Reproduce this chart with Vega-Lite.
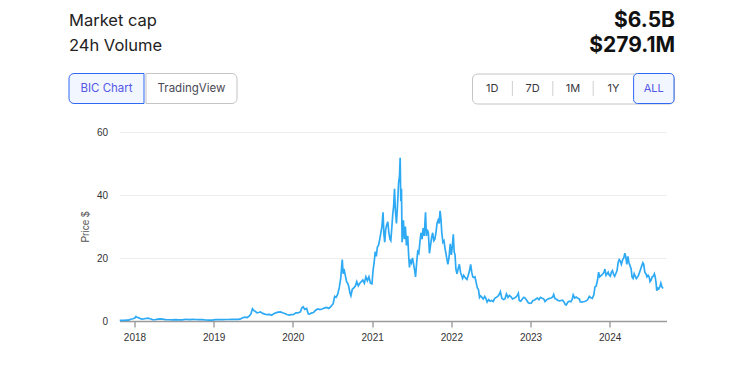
{
  "$schema": "https://vega.github.io/schema/vega-lite/v6.json",
  "padding": {"left": 68, "top": 8.5, "right": 0, "bottom": 0},
  "background": "white",
  "config": {"view": {"stroke": null}, "font": "Inter"},
  "datasets": {
    "header": [
      {"metric": "Market cap", "value": "$6.5B"},
      {"metric": "24h Volume", "value": "$279.1M"}
    ],
    "btnL": [
      {"label": "BIC Chart", "selected": true},
      {"label": "TradingView", "selected": false}
    ],
    "btnR": [
      {"label": "1D", "selected": false, "divider": false},
      {"label": "7D", "selected": false, "divider": true},
      {"label": "1M", "selected": false, "divider": true},
      {"label": "1Y", "selected": false, "divider": true},
      {"label": "ALL", "selected": true, "divider": false}
    ],
    "prices": [
      {"d": "2017-10-25", "p": 0.17}, {"d": "2017-11-05", "p": 0.18}, {"d": "2017-11-15", "p": 0.2}, {"d": "2017-11-25", "p": 0.25},
      {"d": "2017-12-05", "p": 0.3}, {"d": "2017-12-15", "p": 0.55}, {"d": "2017-12-25", "p": 0.7},
      {"d": "2018-01-03", "p": 0.95}, {"d": "2018-01-08", "p": 1.45}, {"d": "2018-01-14", "p": 1.1}, {"d": "2018-01-20", "p": 1.05},
      {"d": "2018-01-27", "p": 0.8}, {"d": "2018-02-04", "p": 0.6}, {"d": "2018-02-12", "p": 0.65}, {"d": "2018-02-22", "p": 0.8},
      {"d": "2018-03-04", "p": 0.9}, {"d": "2018-03-14", "p": 0.7}, {"d": "2018-03-25", "p": 0.45}, {"d": "2018-04-05", "p": 0.4},
      {"d": "2018-04-18", "p": 0.6}, {"d": "2018-04-28", "p": 0.7}, {"d": "2018-05-10", "p": 0.6}, {"d": "2018-05-25", "p": 0.45},
      {"d": "2018-06-10", "p": 0.4}, {"d": "2018-06-25", "p": 0.33}, {"d": "2018-07-10", "p": 0.42}, {"d": "2018-07-25", "p": 0.38},
      {"d": "2018-08-10", "p": 0.35}, {"d": "2018-08-25", "p": 0.55}, {"d": "2018-09-10", "p": 0.45}, {"d": "2018-09-25", "p": 0.52},
      {"d": "2018-10-10", "p": 0.48}, {"d": "2018-10-25", "p": 0.45}, {"d": "2018-11-10", "p": 0.45}, {"d": "2018-11-25", "p": 0.32},
      {"d": "2018-12-10", "p": 0.25}, {"d": "2018-12-25", "p": 0.3},
      {"d": "2019-01-10", "p": 0.45}, {"d": "2019-01-25", "p": 0.42}, {"d": "2019-02-10", "p": 0.45}, {"d": "2019-02-25", "p": 0.48},
      {"d": "2019-03-10", "p": 0.47}, {"d": "2019-03-25", "p": 0.5}, {"d": "2019-04-10", "p": 0.55}, {"d": "2019-04-25", "p": 0.5},
      {"d": "2019-05-05", "p": 0.65}, {"d": "2019-05-15", "p": 1.05}, {"d": "2019-05-25", "p": 1.25}, {"d": "2019-06-05", "p": 1.1},
      {"d": "2019-06-15", "p": 1.6}, {"d": "2019-06-22", "p": 2.3}, {"d": "2019-06-29", "p": 3.9}, {"d": "2019-07-06", "p": 3.3},
      {"d": "2019-07-13", "p": 3.0}, {"d": "2019-07-20", "p": 2.6}, {"d": "2019-07-27", "p": 2.7}, {"d": "2019-08-05", "p": 2.9},
      {"d": "2019-08-15", "p": 2.4}, {"d": "2019-08-25", "p": 2.2}, {"d": "2019-09-05", "p": 2.0}, {"d": "2019-09-15", "p": 2.1},
      {"d": "2019-09-25", "p": 1.8}, {"d": "2019-10-05", "p": 2.3}, {"d": "2019-10-15", "p": 2.6}, {"d": "2019-10-25", "p": 2.8},
      {"d": "2019-11-05", "p": 2.9}, {"d": "2019-11-15", "p": 2.6}, {"d": "2019-11-25", "p": 2.4}, {"d": "2019-12-05", "p": 2.05},
      {"d": "2019-12-15", "p": 1.9}, {"d": "2019-12-25", "p": 2.0},
      {"d": "2020-01-05", "p": 2.1}, {"d": "2020-01-15", "p": 2.6}, {"d": "2020-01-25", "p": 2.55}, {"d": "2020-02-05", "p": 2.9},
      {"d": "2020-02-12", "p": 4.2}, {"d": "2020-02-18", "p": 4.5}, {"d": "2020-02-25", "p": 3.7}, {"d": "2020-03-05", "p": 4.0},
      {"d": "2020-03-12", "p": 2.3}, {"d": "2020-03-19", "p": 2.2}, {"d": "2020-03-26", "p": 2.5}, {"d": "2020-04-05", "p": 2.7},
      {"d": "2020-04-15", "p": 3.4}, {"d": "2020-04-25", "p": 3.8}, {"d": "2020-05-05", "p": 3.6}, {"d": "2020-05-15", "p": 3.8},
      {"d": "2020-05-25", "p": 4.1}, {"d": "2020-06-05", "p": 4.3}, {"d": "2020-06-15", "p": 4.0}, {"d": "2020-06-25", "p": 4.6},
      {"d": "2020-07-05", "p": 5.5}, {"d": "2020-07-12", "p": 7.8}, {"d": "2020-07-19", "p": 7.5}, {"d": "2020-07-26", "p": 8.5},
      {"d": "2020-08-02", "p": 10.5}, {"d": "2020-08-09", "p": 13.5}, {"d": "2020-08-16", "p": 19.5}, {"d": "2020-08-20", "p": 15.0},
      {"d": "2020-08-24", "p": 16.5}, {"d": "2020-08-30", "p": 14.5}, {"d": "2020-09-05", "p": 12.5}, {"d": "2020-09-10", "p": 12.0},
      {"d": "2020-09-15", "p": 11.0}, {"d": "2020-09-20", "p": 9.0}, {"d": "2020-09-25", "p": 8.0}, {"d": "2020-10-01", "p": 10.0},
      {"d": "2020-10-08", "p": 10.5}, {"d": "2020-10-15", "p": 11.0}, {"d": "2020-10-22", "p": 12.5}, {"d": "2020-10-29", "p": 11.2},
      {"d": "2020-11-05", "p": 12.0}, {"d": "2020-11-12", "p": 12.5}, {"d": "2020-11-19", "p": 13.0}, {"d": "2020-11-26", "p": 12.0},
      {"d": "2020-12-03", "p": 14.0}, {"d": "2020-12-10", "p": 12.8}, {"d": "2020-12-17", "p": 14.0}, {"d": "2020-12-24", "p": 12.0},
      {"d": "2020-12-31", "p": 11.8},
      {"d": "2021-01-05", "p": 16.0}, {"d": "2021-01-10", "p": 18.5}, {"d": "2021-01-15", "p": 22.0}, {"d": "2021-01-20", "p": 20.5},
      {"d": "2021-01-25", "p": 23.5}, {"d": "2021-01-30", "p": 24.0}, {"d": "2021-02-05", "p": 26.0}, {"d": "2021-02-10", "p": 28.0},
      {"d": "2021-02-15", "p": 30.0}, {"d": "2021-02-20", "p": 34.5}, {"d": "2021-02-24", "p": 27.5}, {"d": "2021-02-28", "p": 25.0},
      {"d": "2021-03-04", "p": 29.0}, {"d": "2021-03-09", "p": 30.5}, {"d": "2021-03-14", "p": 31.5}, {"d": "2021-03-19", "p": 28.0},
      {"d": "2021-03-24", "p": 26.0}, {"d": "2021-03-28", "p": 25.5}, {"d": "2021-04-02", "p": 30.0}, {"d": "2021-04-06", "p": 34.0},
      {"d": "2021-04-10", "p": 36.5}, {"d": "2021-04-14", "p": 42.0}, {"d": "2021-04-18", "p": 35.0}, {"d": "2021-04-23", "p": 31.0},
      {"d": "2021-04-28", "p": 37.0}, {"d": "2021-05-03", "p": 44.0}, {"d": "2021-05-07", "p": 46.0}, {"d": "2021-05-10", "p": 51.8},
      {"d": "2021-05-13", "p": 38.0}, {"d": "2021-05-16", "p": 42.0}, {"d": "2021-05-19", "p": 25.0}, {"d": "2021-05-22", "p": 30.0},
      {"d": "2021-05-25", "p": 32.0}, {"d": "2021-05-29", "p": 26.0}, {"d": "2021-06-03", "p": 30.0}, {"d": "2021-06-08", "p": 24.0},
      {"d": "2021-06-14", "p": 27.0}, {"d": "2021-06-18", "p": 21.0}, {"d": "2021-06-22", "p": 17.0}, {"d": "2021-06-26", "p": 19.5},
      {"d": "2021-07-01", "p": 18.5}, {"d": "2021-07-06", "p": 20.0}, {"d": "2021-07-11", "p": 18.0}, {"d": "2021-07-16", "p": 16.0},
      {"d": "2021-07-20", "p": 14.0}, {"d": "2021-07-25", "p": 18.5}, {"d": "2021-07-30", "p": 22.0}, {"d": "2021-08-04", "p": 21.5},
      {"d": "2021-08-09", "p": 25.0}, {"d": "2021-08-14", "p": 28.0}, {"d": "2021-08-19", "p": 26.0}, {"d": "2021-08-24", "p": 29.5},
      {"d": "2021-08-29", "p": 27.0}, {"d": "2021-09-04", "p": 34.5}, {"d": "2021-09-08", "p": 27.0}, {"d": "2021-09-12", "p": 29.0},
      {"d": "2021-09-17", "p": 28.0}, {"d": "2021-09-22", "p": 21.5}, {"d": "2021-09-27", "p": 24.0}, {"d": "2021-10-02", "p": 26.5},
      {"d": "2021-10-07", "p": 28.0}, {"d": "2021-10-12", "p": 25.5}, {"d": "2021-10-17", "p": 26.0}, {"d": "2021-10-22", "p": 28.0},
      {"d": "2021-10-27", "p": 31.0}, {"d": "2021-11-01", "p": 32.0}, {"d": "2021-11-06", "p": 31.0}, {"d": "2021-11-10", "p": 35.0},
      {"d": "2021-11-14", "p": 32.5}, {"d": "2021-11-18", "p": 28.0}, {"d": "2021-11-23", "p": 25.0}, {"d": "2021-11-28", "p": 25.5},
      {"d": "2021-12-03", "p": 23.0}, {"d": "2021-12-07", "p": 21.5}, {"d": "2021-12-12", "p": 19.5}, {"d": "2021-12-16", "p": 18.0},
      {"d": "2021-12-21", "p": 20.0}, {"d": "2021-12-27", "p": 24.5}, {"d": "2022-01-01", "p": 21.0}, {"d": "2022-01-06", "p": 24.0},
      {"d": "2022-01-10", "p": 27.5}, {"d": "2022-01-14", "p": 22.0}, {"d": "2022-01-18", "p": 21.0}, {"d": "2022-01-22", "p": 16.5},
      {"d": "2022-01-27", "p": 15.0}, {"d": "2022-02-01", "p": 16.5}, {"d": "2022-02-07", "p": 18.0}, {"d": "2022-02-12", "p": 15.5},
      {"d": "2022-02-17", "p": 14.5}, {"d": "2022-02-22", "p": 13.5}, {"d": "2022-02-27", "p": 14.5}, {"d": "2022-03-04", "p": 14.0},
      {"d": "2022-03-09", "p": 13.5}, {"d": "2022-03-14", "p": 13.2}, {"d": "2022-03-20", "p": 14.5}, {"d": "2022-03-26", "p": 16.0},
      {"d": "2022-03-31", "p": 18.0}, {"d": "2022-04-05", "p": 15.5}, {"d": "2022-04-10", "p": 14.0}, {"d": "2022-04-15", "p": 13.8},
      {"d": "2022-04-20", "p": 14.0}, {"d": "2022-04-26", "p": 12.0}, {"d": "2022-05-01", "p": 10.5}, {"d": "2022-05-06", "p": 10.0},
      {"d": "2022-05-11", "p": 7.5}, {"d": "2022-05-16", "p": 8.0}, {"d": "2022-05-22", "p": 7.5}, {"d": "2022-05-28", "p": 7.0},
      {"d": "2022-06-04", "p": 7.8}, {"d": "2022-06-10", "p": 7.0}, {"d": "2022-06-15", "p": 6.0}, {"d": "2022-06-22", "p": 6.8},
      {"d": "2022-06-29", "p": 6.3}, {"d": "2022-07-06", "p": 6.5}, {"d": "2022-07-13", "p": 6.2}, {"d": "2022-07-20", "p": 7.2},
      {"d": "2022-07-27", "p": 7.5}, {"d": "2022-08-03", "p": 7.8}, {"d": "2022-08-10", "p": 8.5}, {"d": "2022-08-15", "p": 9.3},
      {"d": "2022-08-22", "p": 7.2}, {"d": "2022-08-29", "p": 6.8}, {"d": "2022-09-05", "p": 7.0}, {"d": "2022-09-12", "p": 8.6},
      {"d": "2022-09-19", "p": 7.5}, {"d": "2022-09-26", "p": 8.1}, {"d": "2022-10-03", "p": 7.7}, {"d": "2022-10-10", "p": 7.0},
      {"d": "2022-10-17", "p": 7.2}, {"d": "2022-10-24", "p": 7.5}, {"d": "2022-10-31", "p": 8.0}, {"d": "2022-11-06", "p": 8.8},
      {"d": "2022-11-10", "p": 6.5}, {"d": "2022-11-17", "p": 6.3}, {"d": "2022-11-24", "p": 7.0}, {"d": "2022-12-01", "p": 7.5},
      {"d": "2022-12-08", "p": 7.2}, {"d": "2022-12-15", "p": 6.5}, {"d": "2022-12-22", "p": 5.8}, {"d": "2022-12-29", "p": 5.6},
      {"d": "2023-01-05", "p": 5.7}, {"d": "2023-01-12", "p": 6.5}, {"d": "2023-01-19", "p": 6.6}, {"d": "2023-01-26", "p": 7.0},
      {"d": "2023-02-02", "p": 7.3}, {"d": "2023-02-09", "p": 6.8}, {"d": "2023-02-16", "p": 7.5}, {"d": "2023-02-23", "p": 7.2},
      {"d": "2023-03-02", "p": 7.1}, {"d": "2023-03-09", "p": 6.2}, {"d": "2023-03-16", "p": 6.7}, {"d": "2023-03-23", "p": 7.0},
      {"d": "2023-03-30", "p": 7.2}, {"d": "2023-04-06", "p": 7.3}, {"d": "2023-04-13", "p": 7.6}, {"d": "2023-04-18", "p": 8.4},
      {"d": "2023-04-24", "p": 7.1}, {"d": "2023-05-01", "p": 6.9}, {"d": "2023-05-08", "p": 6.5}, {"d": "2023-05-15", "p": 6.4},
      {"d": "2023-05-22", "p": 6.5}, {"d": "2023-05-29", "p": 6.6}, {"d": "2023-06-05", "p": 6.0}, {"d": "2023-06-10", "p": 5.2},
      {"d": "2023-06-15", "p": 5.1}, {"d": "2023-06-22", "p": 6.0}, {"d": "2023-06-29", "p": 6.3}, {"d": "2023-07-06", "p": 6.1},
      {"d": "2023-07-13", "p": 7.0}, {"d": "2023-07-17", "p": 8.3}, {"d": "2023-07-24", "p": 7.3}, {"d": "2023-07-31", "p": 7.6},
      {"d": "2023-08-07", "p": 7.2}, {"d": "2023-08-14", "p": 7.0}, {"d": "2023-08-18", "p": 6.1}, {"d": "2023-08-25", "p": 6.0},
      {"d": "2023-09-01", "p": 6.1}, {"d": "2023-09-08", "p": 6.2}, {"d": "2023-09-15", "p": 6.4}, {"d": "2023-09-22", "p": 6.8},
      {"d": "2023-09-29", "p": 7.8}, {"d": "2023-10-06", "p": 7.4}, {"d": "2023-10-13", "p": 7.2}, {"d": "2023-10-20", "p": 8.3},
      {"d": "2023-10-25", "p": 10.8}, {"d": "2023-10-31", "p": 11.1}, {"d": "2023-11-06", "p": 13.0}, {"d": "2023-11-11", "p": 15.5},
      {"d": "2023-11-16", "p": 14.0}, {"d": "2023-11-21", "p": 14.3}, {"d": "2023-11-26", "p": 14.6}, {"d": "2023-12-01", "p": 15.0},
      {"d": "2023-12-06", "p": 15.5}, {"d": "2023-12-10", "p": 16.5}, {"d": "2023-12-15", "p": 14.5}, {"d": "2023-12-20", "p": 15.0},
      {"d": "2023-12-25", "p": 15.5}, {"d": "2023-12-30", "p": 14.5},
      {"d": "2024-01-04", "p": 14.2}, {"d": "2024-01-09", "p": 15.5}, {"d": "2024-01-14", "p": 16.0}, {"d": "2024-01-19", "p": 14.8},
      {"d": "2024-01-24", "p": 14.2}, {"d": "2024-01-29", "p": 15.0}, {"d": "2024-02-04", "p": 16.0}, {"d": "2024-02-09", "p": 18.5},
      {"d": "2024-02-14", "p": 19.5}, {"d": "2024-02-19", "p": 19.0}, {"d": "2024-02-24", "p": 18.0}, {"d": "2024-03-01", "p": 19.5},
      {"d": "2024-03-06", "p": 20.0}, {"d": "2024-03-11", "p": 21.5}, {"d": "2024-03-15", "p": 20.5}, {"d": "2024-03-20", "p": 18.0},
      {"d": "2024-03-25", "p": 20.5}, {"d": "2024-03-30", "p": 18.5}, {"d": "2024-04-04", "p": 17.5}, {"d": "2024-04-09", "p": 16.5},
      {"d": "2024-04-13", "p": 14.0}, {"d": "2024-04-18", "p": 13.5}, {"d": "2024-04-23", "p": 15.0}, {"d": "2024-04-28", "p": 14.2},
      {"d": "2024-05-03", "p": 13.5}, {"d": "2024-05-08", "p": 14.0}, {"d": "2024-05-13", "p": 14.5}, {"d": "2024-05-18", "p": 15.5},
      {"d": "2024-05-23", "p": 16.5}, {"d": "2024-05-28", "p": 17.5}, {"d": "2024-06-02", "p": 18.5}, {"d": "2024-06-06", "p": 18.0},
      {"d": "2024-06-11", "p": 15.5}, {"d": "2024-06-16", "p": 15.0}, {"d": "2024-06-21", "p": 14.0}, {"d": "2024-06-26", "p": 14.5},
      {"d": "2024-07-01", "p": 14.0}, {"d": "2024-07-05", "p": 12.5}, {"d": "2024-07-10", "p": 13.0}, {"d": "2024-07-15", "p": 14.0},
      {"d": "2024-07-20", "p": 14.2}, {"d": "2024-07-25", "p": 15.0}, {"d": "2024-07-29", "p": 14.0}, {"d": "2024-08-02", "p": 12.0},
      {"d": "2024-08-05", "p": 9.6}, {"d": "2024-08-09", "p": 10.5}, {"d": "2024-08-14", "p": 10.2}, {"d": "2024-08-19", "p": 10.8},
      {"d": "2024-08-24", "p": 12.0}, {"d": "2024-08-29", "p": 10.8}, {"d": "2024-09-03", "p": 10.3}
    ]
  },
  "vconcat": [
    {
      "vconcat": [
        {
          "data": {"name": "header"},
          "width": 648,
          "height": 50,
          "encoding": {
            "y": {"field": "metric", "type": "nominal", "sort": null, "scale": {"type": "point", "padding": 0.5}, "axis": null}
          },
          "layer": [
            {
              "mark": {"type": "text", "align": "left", "baseline": "middle", "fontSize": 16.5, "color": "#222222", "font": "Inter"},
              "encoding": {
                "x": {"datum": "left", "type": "nominal", "scale": {"type": "point", "domain": ["left", "right"], "padding": 0.034653, "align": 0}, "axis": null},
                "text": {"field": "metric"}
              }
            },
            {
              "mark": {"type": "text", "align": "right", "baseline": "middle", "fontSize": 21, "fontWeight": "bold", "color": "#111111", "font": "Inter"},
              "encoding": {
                "x": {"datum": "right", "type": "nominal", "axis": null},
                "text": {"field": "value"}
              }
            }
          ]
        },
        {
          "hconcat": [
            {
              "hconcat": [
                {
                  "data": {"name": "btnL"},
                  "transform": [{"filter": "datum.selected"}],
                  "width": 75,
                  "height": 30,
                  "layer": [
                    {
                      "mark": {"type": "rect", "fill": "#f2f6ff", "stroke": "#2f68f5", "strokeWidth": 1, "cornerRadiusTopLeft": 5, "cornerRadiusBottomLeft": 5},
                      "encoding": {}
                    },
                    {
                      "mark": {"type": "text", "fontSize": 11.5, "font": "Inter", "baseline": "middle", "color": "#5558e6"},
                      "encoding": {"text": {"field": "label"}}
                    }
                  ]
                },
                {
                  "data": {"name": "btnL"},
                  "transform": [{"filter": "!datum.selected"}],
                  "width": 91,
                  "height": 30,
                  "layer": [
                    {
                      "mark": {"type": "rect", "fill": "#ffffff", "stroke": "#c4c4c4", "strokeWidth": 1, "cornerRadiusTopRight": 5, "cornerRadiusBottomRight": 5},
                      "encoding": {}
                    },
                    {
                      "mark": {"type": "text", "fontSize": 11.5, "font": "Inter", "baseline": "middle", "color": "#4a4a55"},
                      "encoding": {"text": {"field": "label"}}
                    }
                  ]
                }
              ],
              "spacing": 0
            },
            {
              "data": {"name": "btnR"},
              "width": 202,
              "height": 30,
              "view": {"stroke": "#c4c4c4", "strokeWidth": 1, "cornerRadius": 5},
              "encoding": {
                "x": {"field": "label", "type": "nominal", "sort": null, "scale": {"paddingInner": 0, "paddingOuter": 0}, "axis": null}
              },
              "layer": [
                {
                  "mark": {"type": "rect", "cornerRadius": 4, "strokeWidth": 1},
                  "encoding": {
                    "fill": {"condition": {"test": "datum.selected", "value": "#f2f6ff"}, "value": "transparent"},
                    "stroke": {"condition": {"test": "datum.selected", "value": "#2f68f5"}, "value": "transparent"}
                  }
                },
                {
                  "transform": [{"filter": "datum.divider"}],
                  "mark": {"type": "rule", "color": "#d0d0d0", "strokeWidth": 1},
                  "encoding": {
                    "x": {"field": "label", "type": "nominal", "sort": null, "bandPosition": 0},
                    "y": {"datum": 0.25, "type": "quantitative", "scale": {"domain": [0, 1]}, "axis": null},
                    "y2": {"datum": 0.75}
                  }
                },
                {
                  "mark": {"type": "text", "fontSize": 11, "font": "Inter", "baseline": "middle"},
                  "encoding": {
                    "text": {"field": "label"},
                    "color": {"condition": {"test": "datum.selected", "value": "#5558e6"}, "value": "#3a3a40"}
                  }
                }
              ]
            }
          ],
          "spacing": 233
        }
      ],
      "spacing": 14
    },
    {
      "data": {"name": "prices"},
      "width": 547,
      "height": 189,
      "mark": {"type": "line", "color": "#2eaaf5", "strokeWidth": 1.7, "interpolate": "linear"},
      "encoding": {
        "x": {
          "field": "d", "type": "temporal",
          "scale": {"domain": [{"year": 2017, "month": 10, "date": 24}, {"year": 2024, "month": 9, "date": 19}], "nice": false},
          "axis": {
            "title": null, "format": "%Y", "tickCount": {"interval": "year", "step": 1}, "grid": false,
            "labelFont": "Liberation Sans", "labelFontSize": 10, "labelColor": "#333333", "labelPadding": 5,
            "domainColor": "#9a9a9a", "domainWidth": 1.5, "tickColor": "#777777", "tickSize": 6, "tickWidth": 1
          }
        },
        "y": {
          "field": "p", "type": "quantitative",
          "scale": {"domain": [0, 60], "nice": false},
          "axis": {
            "title": "Price $", "values": [0, 20, 40, 60], "domain": false, "ticks": false,
            "gridColor": "#ededed", "gridWidth": 1.2,
            "labelFont": "Liberation Sans", "labelFontSize": 10, "labelColor": "#333333", "labelPadding": 12,
            "titleFont": "Liberation Sans", "titleFontSize": 10, "titleFontWeight": "normal", "titleColor": "#555555", "titlePadding": 6
          }
        }
      }
    }
  ],
  "spacing": 22.5,
  "center": true
}
